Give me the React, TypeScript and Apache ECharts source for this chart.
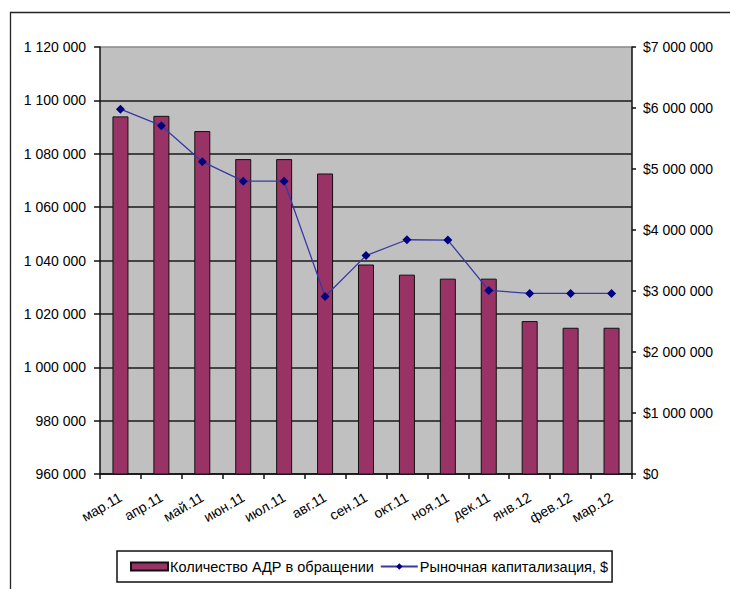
import React, { useEffect, useRef } from "react";
import * as echarts from "echarts";

const categories = ["мар.11", "апр.11", "май.11", "июн.11", "июл.11", "авг.11", "сен.11", "окт.11", "ноя.11", "дек.11", "янв.12", "фев.12", "мар.12"];
const adrCount = [1094000, 1094200, 1088500, 1078000, 1078000, 1072600, 1038500, 1034700, 1033200, 1033200, 1017300, 1014800, 1014800];
const marketCap = [5980000, 5710000, 5120000, 4800000, 4800000, 2910000, 3580000, 3840000, 3835000, 3010000, 2960000, 2960000, 2960000];
const seriesNames = ["Количество АДР в обращении", "Рыночная капитализация, $"];

const fmt = (n: number) => String(n).replace(/\B(?=(\d{3})+(?!\d))/g, " ");
const FONT = "'Liberation Sans', Arial, sans-serif";

export default function App() {
  const ref = useRef<HTMLDivElement>(null);
  useEffect(() => {
    document.body.style.margin = "0";
    const chart = echarts.init(ref.current!, null, { renderer: "svg" });
    const gridColors = ["#1a1a1a", "#1a1a1a", "#1a1a1a", "#1a1a1a", "#1a1a1a", "#1a1a1a", "#1a1a1a", "#1a1a1a", "#8a8a8a"];
    chart.setOption({
      animation: false,
      backgroundColor: "#fff",
      textStyle: { fontFamily: FONT },
      graphic: [
        {
          type: "rect",
          z: -10,
          shape: { x: 10.5, y: 12.5, width: 1000, height: 1000 },
          style: { fill: "none", stroke: "#222", lineWidth: 1.3 },
        },
      ],
      grid: {
        left: 100,
        right: 98,
        top: 47,
        bottom: 115,
        show: true,
        backgroundColor: "#C0C0C0",
        borderWidth: 0,
      },
      legend: {
        left: 117,
        top: 551,
        orient: "horizontal",
        backgroundColor: "#fff",
        borderColor: "#111",
        borderWidth: 1.5,
        borderRadius: 0,
        padding: [8, 4, 8, 13],
        itemWidth: 37,
        itemHeight: 8,
        itemGap: 6,
        textStyle: { fontSize: 14.5, color: "#000", fontFamily: FONT, padding: [0, 0, 0, -3] },
        data: [
          { name: seriesNames[0], icon: "rect" },
          { name: seriesNames[1] },
        ],
      },
      xAxis: {
        type: "category",
        data: categories,
        boundaryGap: true,
        axisLine: { show: true, lineStyle: { color: "#111", width: 1.5 } },
        axisTick: { show: true, length: 5, lineStyle: { color: "#111", width: 1.5 } },
        axisLabel: {
          interval: 0,
          rotate: 30,
          margin: 22,
          fontSize: 14,
          color: "#000",
          fontFamily: FONT,
        },
        splitLine: { show: false },
      },
      yAxis: [
        {
          type: "value",
          min: 960000,
          max: 1120000,
          interval: 20000,
          position: "left",
          axisLine: { show: true, lineStyle: { color: "#111", width: 1.5 } },
          axisTick: { show: true, length: 6, lineStyle: { color: "#111", width: 1.5 } },
          axisLabel: { formatter: (v: number) => fmt(v), fontSize: 14, color: "#000", margin: 14, fontFamily: FONT },
          splitLine: { show: true, lineStyle: { color: gridColors, width: 1.5 } },
        },
        {
          type: "value",
          min: 0,
          max: 7000000,
          interval: 1000000,
          position: "right",
          axisLine: { show: true, lineStyle: { color: "#111", width: 1.5 } },
          axisTick: { show: true, length: 4, lineStyle: { color: "#111", width: 1.5 } },
          axisLabel: { formatter: (v: number) => "$" + fmt(v), fontSize: 14, color: "#000", margin: 11, fontFamily: FONT },
          splitLine: { show: false },
        },
      ],
      series: [
        {
          name: seriesNames[0],
          type: "bar",
          yAxisIndex: 0,
          data: adrCount,
          barWidth: 16,
          itemStyle: { color: "#993366", borderColor: "#111", borderWidth: 1 },
        },
        {
          name: seriesNames[1],
          type: "line",
          yAxisIndex: 1,
          data: marketCap,
          symbol: "diamond",
          symbolSize: 9,
          itemStyle: { color: "#000080" },
          lineStyle: { color: "#3838a6", width: 1.3 },
        },
      ],
    });
    return () => chart.dispose();
  }, []);
  return <div ref={ref} style={{ width: 730, height: 589 }} />;
}
